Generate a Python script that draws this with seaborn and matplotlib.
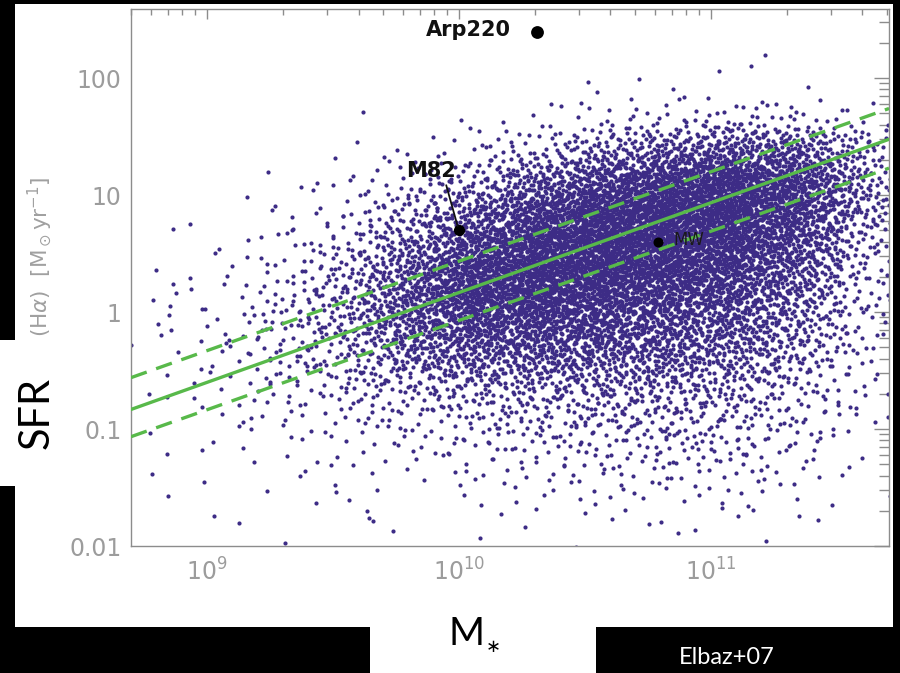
import numpy as np
import pandas as pd
import matplotlib
matplotlib.use("Agg")
import matplotlib.pyplot as plt
import seaborn as sns
from matplotlib.patches import Rectangle
from matplotlib.ticker import FixedLocator, FixedFormatter, LogLocator, NullFormatter

# ---------------- data ----------------
# density table of the galaxy cloud: number of dots per cell
logm_edges = [8.70, 8.95, 9.20, 9.45, 9.70, 9.95, 10.20, 10.45, 10.70, 10.95, 11.20, 11.45, 11.70]
logsfr_edges = [2.50, 2.25, 2.00, 1.75, 1.50, 1.25, 1.00, 0.75, 0.50, 0.25, 0.00,
                -0.25, -0.50, -0.75, -1.00, -1.25, -1.50, -1.75, -2.00]
cloud_counts = [
    [0, 0, 0, 0, 0, 0, 0, 0, 0, 0, 0, 0],
    [0, 0, 0, 0, 0, 0, 0, 1, 0, 1, 1, 0],
    [0, 0, 0, 0, 0, 0, 1, 2, 2, 3, 2, 1],
    [0, 0, 0, 0, 1, 2, 6, 12, 18, 24, 22, 10],
    [0, 0, 0, 1, 5, 12, 32, 65, 105, 140, 130, 50],
    [0, 0, 2, 6, 18, 45, 105, 185, 260, 300, 235, 80],
    [0, 1, 4, 12, 42, 105, 210, 310, 350, 330, 225, 65],
    [1, 3, 9, 24, 75, 185, 300, 350, 340, 290, 170, 45],
    [2, 4, 13, 40, 115, 250, 325, 310, 275, 225, 125, 32],
    [3, 6, 19, 52, 140, 260, 275, 250, 210, 170, 90, 26],
    [4, 8, 23, 56, 125, 195, 195, 170, 150, 125, 72, 20],
    [4, 8, 20, 42, 85, 115, 120, 115, 105, 90, 52, 15],
    [3, 6, 14, 25, 40, 50, 60, 60, 60, 50, 30, 10],
    [3, 5, 9, 14, 20, 28, 35, 38, 40, 35, 22, 7],
    [2, 3, 5, 7, 10, 14, 18, 22, 25, 22, 14, 4],
    [1, 2, 3, 4, 5, 7, 9, 12, 14, 12, 8, 2],
    [1, 1, 2, 2, 2, 3, 4, 5, 6, 5, 4, 1],
    [0, 1, 1, 1, 1, 1, 1, 2, 2, 2, 1, 0],
]

# main sequence (solid) and its 1-sigma envelope (dashed)
ms_mass = [5.0e8, 5.1e11]
ms_sfr = [0.147, 30.0]
ms_upper = [0.275, 55.0]
ms_lower = [0.086, 17.0]

# named galaxies
gal_names = ["Arp220", "M82", "MW"]
gal_mass = [2.05e10, 1.0e10, 6.2e10]
gal_sfr = [250.0, 5.0, 4.0]

y_ticks = [0.01, 0.1, 1, 10, 100]
y_ticklabels = ["0.01", "0.1", "1", "10", "100"]
x_ticks = [1e9, 1e10, 1e11]
x_ticklabels = [r"$10^{9}$", r"$10^{10}$", r"$10^{11}$"]

# ---------------- build cloud points (deterministic spread within cells) ----------------
# Halton (2, 3) low-discrepancy sequence mapped through a tent kernel so the
# cell densities blend smoothly into each other


def halton(i, b):
    f, r = 1.0, 0.0
    while i > 0:
        f /= b
        r += f * (i % b)
        i //= b
    return r


def tent(u):
    return np.sqrt(2 * u) - 1 if u < 0.5 else 1 - np.sqrt(2 * (1 - u))


xs, ys = [], []
idx = 17
for i, row in enumerate(cloud_counts):
    ytop, ybot = logsfr_edges[i], logsfr_edges[i + 1]
    yc, hh = 0.5 * (ytop + ybot), (ytop - ybot)
    for j, n in enumerate(row):
        x0, x1 = logm_edges[j], logm_edges[j + 1]
        xc, ww = 0.5 * (x0 + x1), (x1 - x0)
        for k in range(n):
            idx += 1
            u = halton(idx, 2)
            v = halton(idx, 3)
            xs.append(10 ** (xc + tent(u) * ww))
            ys.append(10 ** (yc + tent(v) * hh))
cloud = pd.DataFrame({"mass": xs, "sfr": ys})

# ---------------- figure ----------------
sns.set_style("white")
plt.rcParams["font.family"] = ["DejaVu Sans"]
plt.rcParams["mathtext.fontset"] = "dejavusans"

W, H = 900, 673
fig = plt.figure(figsize=(9.0, 6.73), dpi=100, facecolor="black")


def frect(x0, y0, x1, y1, color="white"):
    fig.patches.append(Rectangle((x0 / W, 1 - y1 / H), (x1 - x0) / W, (y1 - y0) / H,
                                 transform=fig.transFigure, facecolor=color,
                                 edgecolor="none", zorder=-5))


frect(15, 4, 893, 627)     # white panel of the pasted figure
frect(0, 340, 20, 486)     # SFR label box
frect(370, 626, 596, 673)  # M* label box

ax = fig.add_axes([131 / W, 1 - 546 / H, (889 - 131) / W, (546 - 9) / H])
ax.set_zorder(1)
ax.set_facecolor("white")

green = "#58b94a"
purple = "#3d2c86"

sns.scatterplot(data=cloud, x="mass", y="sfr", s=9, color=purple, linewidth=0,
                ax=ax, zorder=2, legend=False)

sns.lineplot(x=ms_mass, y=ms_sfr, ax=ax, color=green, linewidth=2.4, zorder=3)
for ydat in (ms_upper, ms_lower):
    sns.lineplot(x=ms_mass, y=ydat, ax=ax, color=green, linewidth=2.4, zorder=3)
    ax.lines[-1].set_dashes([5, 3])

gal_sizes = [85, 65, 52]
for m, s_, sz in zip(gal_mass, gal_sfr, gal_sizes):
    sns.scatterplot(x=[m], y=[s_], s=sz, color="black", linewidth=0, ax=ax, zorder=4, legend=False)

ax.annotate(gal_names[0], xy=(gal_mass[0], gal_sfr[0]), xytext=(-19, 1),
            textcoords="offset points", ha="right", va="center",
            fontsize=15, fontweight="bold", color="#111111", zorder=5)
ax.annotate(gal_names[1], xy=(gal_mass[1], gal_sfr[1]), xytext=(-20, 43),
            textcoords="offset points", ha="center", va="center",
            fontsize=15, fontweight="bold", color="#111111", zorder=5,
            arrowprops=dict(arrowstyle="-", color="#111111", lw=1.3,
                            relpos=(0.78, 0.0), shrinkA=1, shrinkB=3))
ax.annotate(gal_names[2], xy=(gal_mass[2], gal_sfr[2]), xytext=(11, 1),
            textcoords="offset points", ha="left", va="center",
            fontsize=12, color="#1a1a1a", zorder=5)

ax.set_xscale("log")
ax.set_yscale("log")
ax.set_xlim(5.0e8, 5.1e11)
ax.set_ylim(0.01, 390)

ax.yaxis.set_major_locator(FixedLocator(y_ticks))
ax.yaxis.set_major_formatter(FixedFormatter(y_ticklabels))
ax.yaxis.set_minor_locator(LogLocator(base=10, subs=np.arange(2, 10)))
ax.yaxis.set_minor_formatter(NullFormatter())
ax.xaxis.set_major_locator(FixedLocator(x_ticks))
ax.xaxis.set_major_formatter(FixedFormatter(x_ticklabels))
ax.xaxis.set_minor_locator(LogLocator(base=10, subs=np.arange(2, 10)))
ax.xaxis.set_minor_formatter(NullFormatter())

tick_col = "#8c8c8c"
ax.tick_params(which="both", direction="in", top=True, right=True, color=tick_col,
               width=1.0, labelcolor="#9c9c9c", labelsize=17)
ax.tick_params(axis="y", which="major", length=11, pad=7)
ax.tick_params(axis="y", which="minor", length=7)
ax.tick_params(axis="x", which="major", length=7, pad=9)
ax.tick_params(axis="x", which="minor", length=4)
for sp in ax.spines.values():
    sp.set_color(tick_col)
    sp.set_linewidth(1.0)
ax.set_xlabel("")
ax.set_ylabel("")

# axis titles (as in the slide)
fig.text(40 / W, 1 - 257 / H, r"(H$\alpha$)  [M$_\odot$yr$^{-1}$]", rotation=90,
         ha="center", va="center", fontsize=15.5, color="#a0a0a0")
fig.text(37 / W, 1 - 413 / H, "SFR", rotation=90, ha="center", va="center",
         fontsize=30, color="black", family=["Lato", "DejaVu Sans"])
fig.text(467 / W, 1 - 634 / H, "M", ha="center", va="center",
         fontsize=28, color="black", family=["Lato", "DejaVu Sans"])
fig.text(493 / W, 1 - 647 / H, "\u2217", ha="center", va="center",
         fontsize=13, color="black", family=["DejaVu Sans"])
fig.text(727 / W, 1 - 657 / H, "Elbaz+07", ha="center", va="center",
         fontsize=17, color="white", family=["Lato", "DejaVu Sans"])

fig.savefig("out.png", dpi=100, facecolor="black")
